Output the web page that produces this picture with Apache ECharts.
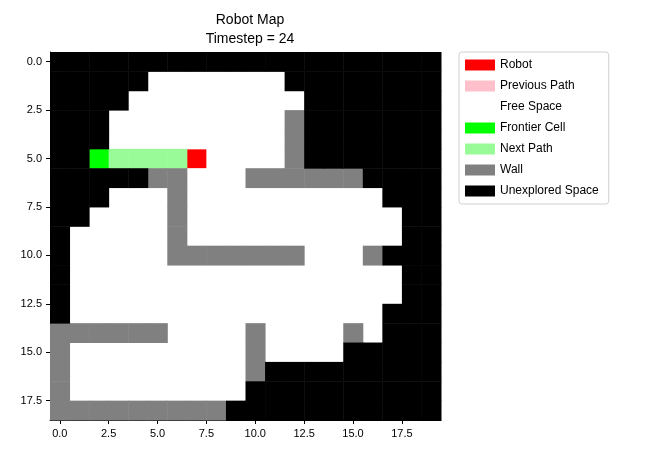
<!DOCTYPE html>
<html><head><meta charset="utf-8">
<script src="https://cdn.jsdelivr.net/npm/echarts@6/dist/echarts.min.js"></script>
<style>body{margin:0;background:#fff}#main{width:645px;height:456px}</style>
</head><body><div id="main"></div>
<script>
// 0 unexplored, 1 free, 2 wall, 3 frontier, 4 next path, 5 robot, 6 previous path
var mapRows = [
  '00000000000000000000',
  '00000111111100000000',
  '00001111111110000000',
  '00011111111120000000',
  '00011111111120000000',
  '00344445111120000000',
  '00000221112222220000',
  '00011121111111111000',
  '00111121111111111100',
  '01111121111111111100',
  '01111122222221112000',
  '01111111111111111100',
  '01111111111111111100',
  '01111111111111111000',
  '22222211112111121000',
  '21111111112111100000',
  '21111111112000000000',
  '21111111110000000000',
  '22222222200000000000'
];
var legendNames = ['Robot', 'Previous Path', 'Free Space', 'Frontier Cell', 'Next Path', 'Wall', 'Unexplored Space'];
var legendCodes = [5, 6, 1, 3, 4, 2, 0];
var cellColors = { 0: '#000000', 1: '#ffffff', 2: '#808080', 3: '#00ff00', 4: '#98fb98', 5: '#ff0000', 6: '#ffc0cb' };
var tickValues = [0, 2.5, 5, 7.5, 10, 12.5, 15, 17.5];

var myChart = echarts.init(document.getElementById('main'));

function renderCell(params, api) {
  var x = api.value(0), y = api.value(1);
  var p1 = api.coord([x - 0.5, y - 0.5]);
  var p2 = api.coord([x + 0.5, y + 0.5]);
  return {
    type: 'rect',
    shape: { x: Math.min(p1[0], p2[0]), y: Math.min(p1[1], p2[1]),
      width: Math.abs(p2[0] - p1[0]) + 0.5, height: Math.abs(p2[1] - p1[1]) + 0.5 },
    style: { fill: api.visual('color') }
  };
}

var series = legendCodes.map(function (code, i) {
  var data = [];
  mapRows.forEach(function (row, y) {
    for (var x = 0; x < row.length; x++) {
      if (+row[x] === code) data.push([x, y]);
    }
  });
  return { name: legendNames[i], type: 'custom', renderItem: renderCell, data: data,
    itemStyle: { color: cellColors[code] }, z: 2 };
});

var axisCommon = {
  type: 'value',
  splitLine: { show: false },
  axisLine: { show: true, onZero: false, lineStyle: { color: '#000' } },
  axisTick: { show: true, length: 4, customValues: tickValues, lineStyle: { color: '#000' } },
  axisLabel: { customValues: tickValues, color: '#000', fontSize: 11,
    formatter: function (v) { return v.toFixed(1); } }
};

option = {
  animation: false,
  title: {
    text: 'Robot Map\nTimestep = 24',
    left: 245, top: 6, textAlign: 'center',
    textStyle: { fontSize: 14, fontWeight: 'normal', color: '#000', lineHeight: 19 }
  },
  grid: { left: 50, top: 52, width: 391, height: 368 },
  legend: {
    orient: 'vertical', left: 459, top: 52,
    itemWidth: 30, itemHeight: 11, itemGap: 9,
    icon: 'rect',
    padding: [7, 10, 7, 6],
    borderColor: '#d0d0d0', borderWidth: 1, borderRadius: 3,
    textStyle: { fontSize: 12, color: '#000' },
    data: legendNames
  },
  xAxis: Object.assign({}, axisCommon, { min: -0.5, max: 19.5, position: 'bottom' }),
  yAxis: Object.assign({}, axisCommon, { min: -0.5, max: 18.5, inverse: true }),
  series: series
};
myChart.setOption(option);
</script>
</body></html>
